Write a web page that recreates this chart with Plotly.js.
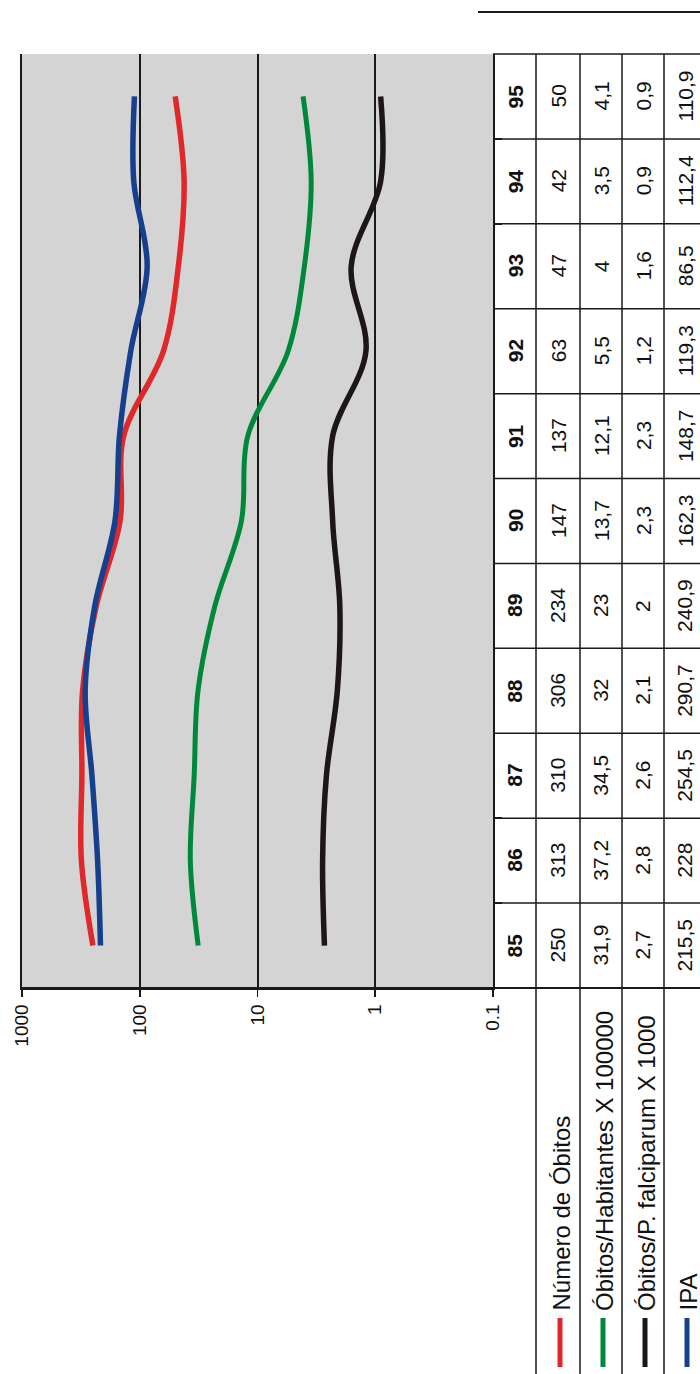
<!DOCTYPE html>
<html><head><meta charset="utf-8">
<script src="https://cdn.plot.ly/plotly-3.0.1.min.js"></script>
<style>html,body{margin:0;padding:0;background:#fff}#chart{width:700px;height:1374px}</style>
</head><body><div id="chart"></div>
<script>
// ---- data ----
const years = [85, 86, 87, 88, 89, 90, 91, 92, 93, 94, 95];
const numeroObitos = [250, 313, 310, 306, 234, 147, 137, 63, 47, 42, 50];
const obitosHabitantes = [31.9, 37.2, 34.5, 32, 23, 13.7, 12.1, 5.5, 4, 3.5, 4.1];
const obitosFalciparum = [2.7, 2.8, 2.6, 2.1, 2, 2.3, 2.3, 1.2, 1.6, 0.9, 0.9];
const ipa = [215.5, 228, 254.5, 290.7, 240.9, 162.3, 148.7, 119.3, 86.5, 112.4, 110.9];
const seriesNames = ['Número de Óbitos', 'Óbitos/Habitantes X 100000', 'Óbitos/P. falciparum X 1000', 'IPA'];
const valueTicks = [1000, 100, 10, 1, 0.1];
const valueTickLabels = ['1000', '100', '10', '1', '0.1'];

// ---- styling / layout helpers ----
const W = 700, H = 1374;
const px = v => v / W;
const py = v => 1 - v / H;
const colors = ['#E0282B', '#00883A', '#1C1714', '#163F8D'];
const widths = [5.5, 5, 5.5, 5.5];
const seriesValues = [numeroObitos, obitosHabitantes, obitosFalciparum, ipa];
const FONT = 'Liberation Sans, Arial, sans-serif';
const colEdges = [494, 536, 580, 622, 664, 706];
const colCenters = colEdges.slice(0, -1).map((e, i) => (e + colEdges[i + 1]) / 2);
const plotTop = 54, plotBottom = 988, plotLeft = 22, plotRight = 493;
const LC = '#1a1a1a';

const traces = seriesValues.map((vals, i) => ({
  type: 'scatter', mode: 'lines',
  x: vals, y: years,
  name: seriesNames[i],
  line: {color: colors[i], width: widths[i], shape: 'spline', smoothing: 1},
  showlegend: false, hoverinfo: 'skip'
}));

const fmt = v => String(v).replace('.', ',');

const shapes = [];
const annotations = [];
// top rule
shapes.push({type: 'line', xref: 'paper', yref: 'paper', x0: px(478), x1: 1, y0: py(12), y1: py(12), line: {color: LC, width: 2}});
// table top
shapes.push({type: 'line', xref: 'paper', yref: 'paper', x0: px(493), x1: 1, y0: py(plotTop), y1: py(plotTop), line: {color: LC, width: 1.5}});
// table bottom (across everything)
shapes.push({type: 'line', xref: 'paper', yref: 'paper', x0: px(plotLeft), x1: 1, y0: py(plotBottom), y1: py(plotBottom), line: {color: LC, width: 1.8}});
// row separators between years
years.slice(1).forEach(y => {
  shapes.push({type: 'line', xref: 'paper', yref: 'y', x0: px(493), x1: 1, y0: y - 0.5, y1: y - 0.5, line: {color: LC, width: 1.5}});
});
// column separators
colEdges.slice(1, 5).forEach(e => {
  shapes.push({type: 'line', xref: 'paper', yref: 'paper', x0: px(e), x1: px(e), y0: 0, y1: py(plotTop), line: {color: LC, width: 1.5}});
});

// table text
years.forEach((yr, j) => {
  annotations.push({xref: 'paper', yref: 'y', x: px(colCenters[0]), y: yr, text: '<b>' + yr + '</b>', showarrow: false, textangle: -90,
    font: {family: FONT, size: 21, color: '#111'}, xanchor: 'center', yanchor: 'middle'});
  seriesValues.forEach((vals, i) => {
    annotations.push({xref: 'paper', yref: 'y', x: px(colCenters[i + 1]), y: yr, text: fmt(vals[j]), showarrow: false, textangle: -90,
      font: {family: FONT, size: 21, color: '#111'}, xanchor: 'center', yanchor: 'middle'});
  });
});

// legend row headers
seriesNames.forEach((nm, i) => {
  const cx = colCenters[i + 1];
  annotations.push({xref: 'paper', yref: 'paper', x: px(cx + 3), y: py(1313), text: nm, showarrow: false, textangle: -90,
    font: {family: FONT, size: 24, color: '#111'}, xanchor: 'center', yanchor: 'bottom'});
  shapes.push({type: 'line', xref: 'paper', yref: 'paper', x0: px(cx + 2), x1: px(cx + 2), y0: py(1318), y1: py(1367), line: {color: colors[i], width: 5}});
});

const layout = {
  width: W, height: H,
  margin: {l: 0, r: 0, t: 0, b: 0},
  paper_bgcolor: '#ffffff',
  plot_bgcolor: '#D4D4D4',
  showlegend: false,
  xaxis: {
    type: 'log', range: [3, -1], domain: [px(plotLeft), px(plotRight)],
    tickvals: valueTicks, ticktext: valueTickLabels, tickangle: -90,
    ticks: 'outside', ticklen: 7, tickcolor: LC, tickwidth: 1.8,
    showgrid: true, gridcolor: LC, gridwidth: 2,
    showline: true, linecolor: LC, linewidth: 1.8,
    zeroline: false,
    tickfont: {family: FONT, size: 19, color: '#111'}
  },
  yaxis: {
    type: 'linear', range: [years[0] - 0.5, years[years.length - 1] + 0.5],
    domain: [py(plotBottom), py(plotTop)], side: 'right',
    showgrid: false, zeroline: false, showticklabels: false,
    showline: true, mirror: true, linecolor: LC, linewidth: 2,
    ticks: 'outside', ticklen: 7, tickcolor: LC, tickwidth: 1.5,
    tickvals: years.slice(1).map(y => y - 0.5)
  },
  shapes: shapes,
  annotations: annotations
};

Plotly.newPlot('chart', traces, layout, {staticPlot: true, displayModeBar: false});
</script>
</body></html>
